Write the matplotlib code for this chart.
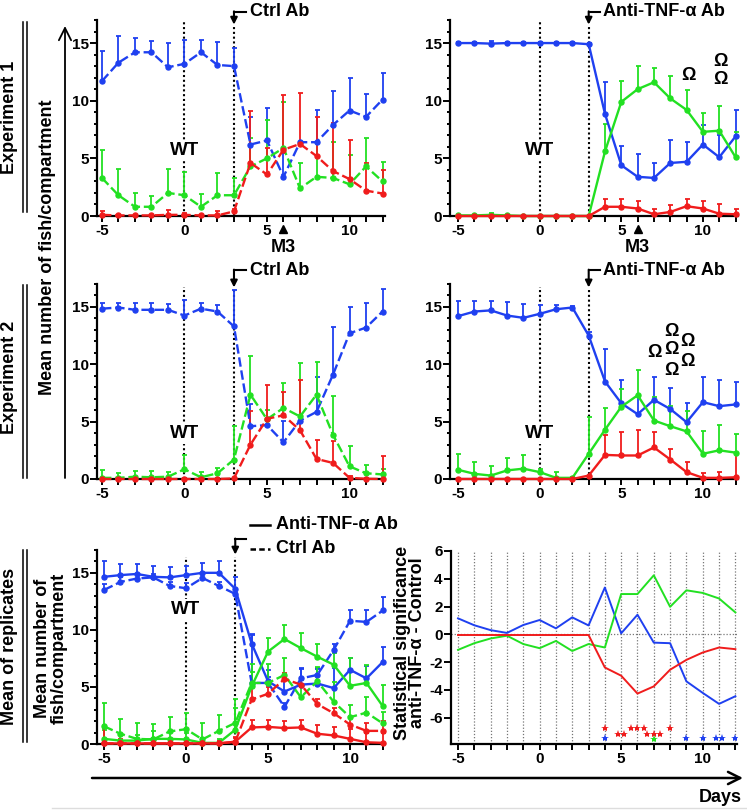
import numpy as np
import matplotlib
matplotlib.use("Agg")
import matplotlib.pyplot as plt
from matplotlib.ticker import MultipleLocator

plt.rcParams['font.family'] = ['Liberation Sans', 'DejaVu Sans']
plt.rcParams['font.weight'] = 'bold'
plt.rcParams['axes.unicode_minus'] = False

# ----------------------------------------------------------------------
# data
# ----------------------------------------------------------------------
days = [-5, -4, -3, -2, -1, 0, 1, 2, 3, 4, 5, 6, 7, 8, 9, 10, 11, 12]

# Experiment 1, control antibody (dashed)
e1c_blue    = [11.7, 13.3, 14.2, 14.2, 12.9, 13.2, 14.2, 13.1, 13.0, 6.2, 6.55, 3.4, 6.4, 6.4, 7.9, 9.15, 8.6, 10.1]
e1c_blue_up = [14.3, 15.6, 15.4, 15.2, 15.0, 15.3, 15.3, 15.1, 14.6, 8.55, 9.4, 5.45, 6.4, 9.2, 10.8, 12.0, 10.6, 12.4]
e1c_green    = [3.3, 1.8, 0.8, 0.8, 2.0, 1.8, 0.8, 1.8, 1.8, 4.3, 5.0, 5.9, 2.4, 3.4, 3.3, 2.75, 4.3, 3.0]
e1c_green_up = [5.7, 4.05, 2.0, 1.7, 4.05, 3.85, 1.9, 3.7, 3.3, 6.8, 8.3, 9.9, 4.6, 6.4, 6.4, 5.3, 6.75, 4.7]
e1c_red    = [0.1, 0.05, 0.05, 0.05, 0.1, 0.1, 0.05, 0.05, 0.4, 4.6, 3.6, 5.75, 6.25, 5.2, 3.9, 3.2, 2.2, 1.95]
e1c_red_up = [0.4, 0.1, 0.1, 0.1, 0.5, 0.3, 0.1, 0.4, 0.6, 9.1, 5.9, 10.5, 10.65, 8.6, 8.05, 6.6, 4.6, 4.0]

# Experiment 1, anti-TNF-a (solid)
e1t_blue    = [15.0, 15.0, 14.95, 15.0, 15.0, 15.0, 15.0, 15.0, 14.9, 8.85, 4.4, 3.4, 3.3, 4.6, 4.7, 6.2, 5.1, 6.9]
e1t_blue_up = [15.1, 15.1, 15.2, 15.1, 15.1, 15.1, 15.1, 15.1, 15.0, 11.6, 6.1, 5.4, 4.6, 6.55, 6.4, 7.9, 7.0, 9.2]
e1t_green    = [0.05, 0.05, 0.1, 0.05, 0.0, 0.0, 0.0, 0.0, 0.0, 5.6, 9.9, 11.0, 11.6, 10.2, 9.2, 7.3, 7.4, 5.1]
e1t_green_up = [0.1, 0.1, 0.3, 0.1, 0.0, 0.0, 0.0, 0.0, 0.0, 8.0, 11.7, 13.0, 12.8, 12.1, 10.9, 8.9, 9.55, 7.3]
e1t_red    = [0, 0, 0, 0, 0, 0, 0, 0, 0, 0.8, 0.8, 0.65, 0.15, 0.35, 0.85, 0.65, 0.2, 0.15]
e1t_red_up = [0, 0, 0, 0, 0, 0, 0, 0, 0, 1.45, 1.5, 1.3, 0.65, 0.95, 1.5, 1.3, 1.05, 0.6]

# Experiment 2, control antibody (dashed)
e2c_blue    = [14.85, 14.95, 14.75, 14.75, 14.75, 14.25, 14.85, 14.6, 13.3, 4.6, 4.7, 3.2, 5.1, 5.85, 9.1, 12.7, 13.2, 14.6]
e2c_blue_up = [15.35, 15.35, 15.35, 15.35, 15.3, 15.6, 15.35, 15.2, 16.5, 6.5, 5.2, 5.1, 5.5, 8.9, 13.25, 15.0, 15.35, 16.6]
e2c_green    = [0.1, 0.1, 0.2, 0.15, 0.2, 0.85, 0.15, 0.5, 1.7, 7.35, 5.2, 6.2, 5.45, 7.35, 3.85, 1.1, 0.5, 0.4]
e2c_green_up = [0.75, 0.5, 0.7, 0.7, 0.6, 2.1, 0.6, 1.0, 4.6, 10.7, 6.0, 8.4, 10.1, 10.2, 7.2, 2.9, 1.25, 0.9]
e2c_red    = [0, 0, 0, 0, 0, 0, 0, 0, 0.05, 3.0, 5.25, 5.55, 4.25, 1.75, 1.4, 0.1, 0.02, 0.0]
e2c_red_up = [0.1, 0.1, 0.1, 0.1, 0.1, 0.1, 0.1, 0.1, 0.1, 5.9, 8.2, 7.6, 8.65, 3.4, 3.3, 0.3, 0.1, 2.0]

# Experiment 2, anti-TNF-a (solid)
e2t_blue    = [14.2, 14.6, 14.7, 14.25, 14.05, 14.4, 14.8, 14.95, 12.5, 8.5, 6.6, 5.65, 6.9, 6.1, 4.95, 6.7, 6.35, 6.5]
e2t_blue_up = [15.55, 15.55, 15.5, 15.4, 15.3, 15.2, 15.2, 15.1, 12.8, 11.3, 8.6, 7.3, 8.9, 7.95, 6.6, 8.85, 8.6, 8.5]
e2t_green    = [0.8, 0.45, 0.3, 0.75, 0.9, 0.6, 0.1, 0.1, 2.2, 4.3, 6.3, 7.3, 5.1, 4.6, 4.15, 2.2, 2.5, 2.3]
e2t_green_up = [2.2, 1.5, 1.15, 1.8, 2.05, 0.9, 0.6, 0.2, 5.4, 6.2, 7.85, 9.5, 7.15, 6.4, 5.95, 4.15, 4.75, 3.95]
e2t_red    = [0, 0, 0, 0, 0, 0, 0, 0, 0.3, 2.1, 2.05, 2.05, 2.75, 1.7, 0.6, 0.1, 0.1, 0.15]
e2t_red_up = [0, 0, 0, 0, 0, 0, 0, 0, 0.3, 3.85, 4.1, 4.3, 4.1, 2.65, 1.5, 0.5, 0.6, 2.3]

# Mean of replicates
mt_blue    = [14.65, 14.8, 14.9, 14.65, 14.6, 14.8, 15.0, 15.0, 13.6, 8.8, 5.5, 4.6, 5.2, 5.3, 4.9, 6.5, 5.75, 7.2]
mt_blue_up = [16.0, 15.8, 15.75, 15.6, 15.5, 15.6, 15.9, 16.0, 14.65, 9.55, 6.5, 5.7, 6.65, 6.6, 6.65, 7.5, 6.8, 8.5]
mc_blue    = [13.5, 14.2, 14.5, 14.6, 13.85, 13.65, 14.55, 13.85, 13.15, 5.35, 5.35, 3.25, 5.75, 6.05, 8.25, 10.8, 10.7, 11.7]
mc_blue_up = [14.0, 14.6, 14.9, 14.9, 14.2, 14.1, 14.9, 14.2, 13.6, 9.65, 5.9, 3.6, 6.6, 6.7, 8.8, 11.75, 11.75, 12.9]
mt_green    = [0.45, 0.3, 0.3, 0.45, 0.45, 0.4, 0.1, 0.1, 1.25, 5.05, 8.1, 9.2, 8.4, 7.65, 6.95, 5.1, 5.35, 3.3]
mt_green_up = [1.2, 0.9, 0.8, 1.1, 1.1, 1.0, 0.5, 0.4, 3.15, 6.35, 9.25, 10.4, 9.75, 8.8, 7.95, 7.5, 6.95, 5.15]
mc_green    = [1.55, 0.9, 0.45, 0.4, 1.1, 1.3, 0.4, 1.15, 1.85, 5.35, 5.35, 6.05, 4.1, 5.5, 3.7, 2.35, 2.75, 1.8]
mc_green_up = [3.6, 2.2, 1.85, 1.75, 2.4, 2.7, 1.85, 2.5, 3.9, 7.0, 7.0, 7.5, 5.6, 6.75, 5.4, 3.45, 4.1, 2.8]
mt_red    = [0.05, 0.05, 0.05, 0.05, 0.05, 0.05, 0.05, 0.05, 0.2, 1.45, 1.5, 1.4, 1.45, 0.9, 0.75, 0.45, 0.15, 0.1]
mt_red_up = [1.4, 0.4, 0.3, 0.3, 0.4, 0.3, 0.3, 0.3, 0.6, 2.1, 2.1, 2.0, 2.1, 1.7, 1.5, 1.3, 1.0, 1.0]
mc_red    = [0.05, 0.05, 0.05, 0.05, 0.05, 0.05, 0.05, 0.05, 0.2, 3.9, 4.4, 5.7, 5.2, 3.5, 2.7, 1.7, 1.15, 1.15]
mc_red_up = [0.3, 0.3, 0.3, 0.3, 0.3, 0.3, 0.3, 0.3, 0.5, 5.05, 5.0, 6.2, 5.7, 3.95, 3.15, 2.3, 1.85, 2.0]

# Statistical significance anti-TNF-a vs control
sig_blue  = [1.15, 0.65, 0.3, 0.1, 0.67, 1.03, 0.43, 1.22, 0.64, 3.37, 0.07, 1.41, -0.6, -0.64, -3.39, -4.22, -5.01, -4.46]
sig_green = [-1.12, -0.64, -0.3, -0.1, -0.7, -1.0, -0.48, -1.2, -0.7, -0.95, 2.9, 2.9, 4.25, 1.98, 3.17, 2.98, 2.58, 1.58]
sig_red   = [-0.05, -0.05, -0.05, -0.05, -0.05, -0.05, -0.05, -0.05, -0.05, -2.39, -2.98, -4.27, -3.75, -2.55, -1.84, -1.31, -0.95, -1.07]

red_star_x = [4, 4.8, 5.2, 5.6, 6.0, 6.4, 6.6, 7.0, 7.4, 8]
red_star_y = [-6.75, -7.15, -7.15, -6.75, -6.75, -6.75, -7.15, -7.15, -7.15, -6.75]
blue_star_x = [4, 9, 10, 10.8, 11.2, 12]
green_star_x = [7]

BLUE, GREEN, RED = '#1f40f0', '#22e022', '#f01c1c'

# ----------------------------------------------------------------------
# layout helpers (pixel based)
# ----------------------------------------------------------------------
W, H = 747, 810
fig = plt.figure(figsize=(W / 100, H / 100), dpi=100)

ov = fig.add_axes([0, 0, 1, 1])
ov.set_xlim(0, W)
ov.set_ylim(H, 0)
ov.axis('off')


def px_axes(l, t, r, b):
    return fig.add_axes([l / W, 1 - b / H, (r - l) / W, (b - t) / H])


def style(ax, xlim, ylim, ymaj=5, ymin=1):
    ax.set_xlim(*xlim)
    ax.set_ylim(*ylim)
    for s in ['top', 'right']:
        ax.spines[s].set_visible(False)
    for s in ['left', 'bottom']:
        ax.spines[s].set_linewidth(1.6)
    ax.xaxis.set_major_locator(MultipleLocator(5))
    ax.xaxis.set_minor_locator(MultipleLocator(1))
    ax.yaxis.set_major_locator(MultipleLocator(ymaj))
    if ymin:
        ax.yaxis.set_minor_locator(MultipleLocator(ymin))
    ax.tick_params(which='both', direction='out', width=1.4, labelsize=11, pad=1)
    ax.tick_params(axis='x', which='both', length=4.5)
    ax.tick_params(axis='y', which='major', length=5)
    ax.tick_params(axis='y', which='minor', length=2.5)
    ax.patch.set_alpha(0)


def series(ax, mean, up, color, dashed):
    mean = np.array(mean, dtype=float)
    err = np.array(up, dtype=float) - mean
    cont = ax.errorbar(days, mean, yerr=[np.zeros_like(err), np.clip(err, 0, None)],
                       color=color, lw=1.7, marker='o', ms=3.6, elinewidth=1.3,
                       capsize=1.8, capthick=1.3, zorder=3)
    if dashed:
        cont[0].set_linestyle((0, (4, 1.6)))
    for a in cont.get_children():
        a.set_clip_on(False)


def vlines(ax, top0, top3):
    ax.plot([0, 0], [0, top0], ls=(0, (1, 1.3)), color='k', lw=1.5, zorder=2.5, clip_on=False)
    ax.plot([3, 3], [0, top3], ls=(0, (1, 1.3)), color='k', lw=1.5, zorder=2.5, clip_on=False)


def bent_arrow(ax, y_bend, y_tip, x_end, label):
    ax.plot([3, x_end], [y_bend, y_bend], color='k', lw=1.5, clip_on=False)
    ax.annotate('', xy=(3, y_tip), xytext=(3, y_bend + 0.05),
                arrowprops=dict(arrowstyle='-|>', color='k', lw=1.5, mutation_scale=10,
                                shrinkA=0, shrinkB=0), annotation_clip=False)
    if label:
        ax.text(x_end + 0.2, y_bend, label, ha='left', va='center', fontsize=13,
                fontweight='bold', clip_on=False)


def wt(ax, y):
    ax.text(0, y, 'WT', ha='center', va='center', fontsize=13.5, fontweight='bold', zorder=4,
            bbox=dict(facecolor='white', edgecolor='none', pad=1.5))


def m3(ax):
    ax.plot([6], [-1.1], marker='^', ms=6, color='k', clip_on=False)
    ax.text(6, -2.75, 'M3', ha='center', va='center', fontsize=13, fontweight='bold')


def omega(ax, x, y):
    ax.text(x, y, '\u03a9', ha='center', va='center', fontsize=13, fontweight='bold')


# ----------------------------------------------------------------------
# Experiment 1
# ----------------------------------------------------------------------
ax1 = px_axes(97, 20, 385, 216)
style(ax1, (-5.3, 12.15), (0, 17))
series(ax1, e1c_blue, e1c_blue_up, BLUE, True)
series(ax1, e1c_green, e1c_green_up, GREEN, True)
series(ax1, e1c_red, e1c_red_up, RED, True)
vlines(ax1, 16.8, 16.6)
wt(ax1, 5.7)
bent_arrow(ax1, 17.7, 16.6, 3.75, 'Ctrl Ab')
m3(ax1)

ax2 = px_axes(450, 20, 738, 216)
style(ax2, (-5.5, 12.15), (0, 17))
series(ax2, e1t_blue, e1t_blue_up, BLUE, False)
series(ax2, e1t_green, e1t_green_up, GREEN, False)
series(ax2, e1t_red, e1t_red_up, RED, False)
vlines(ax2, 16.8, 16.6)
wt(ax2, 5.7)
bent_arrow(ax2, 17.7, 16.6, 3.7, 'Anti-TNF-\u03b1 Ab')
m3(ax2)
omega(ax2, 9.1, 12.2)
omega(ax2, 11.1, 13.4)
omega(ax2, 11.1, 11.8)

# ----------------------------------------------------------------------
# Experiment 2
# ----------------------------------------------------------------------
ax3 = px_axes(97, 284, 385, 479)
style(ax3, (-5.3, 12.15), (0, 17))
series(ax3, e2c_blue, e2c_blue_up, BLUE, True)
series(ax3, e2c_green, e2c_green_up, GREEN, True)
series(ax3, e2c_red, e2c_red_up, RED, True)
vlines(ax3, 16.7, 16.6)
wt(ax3, 4.0)
bent_arrow(ax3, 18.2, 16.7, 3.75, 'Ctrl Ab')

ax4 = px_axes(450, 284, 738, 479)
style(ax4, (-5.5, 12.15), (0, 17))
series(ax4, e2t_blue, e2t_blue_up, BLUE, False)
series(ax4, e2t_green, e2t_green_up, GREEN, False)
series(ax4, e2t_red, e2t_red_up, RED, False)
vlines(ax4, 16.7, 16.6)
wt(ax4, 4.0)
bent_arrow(ax4, 18.2, 16.7, 3.7, 'Anti-TNF-\u03b1 Ab')
for ox, oy in [(8.06, 12.9), (8.06, 11.3), (8.06, 9.5), (7.04, 11.0), (9.08, 12.0), (9.08, 10.26)]:
    omega(ax4, ox, oy)

# ----------------------------------------------------------------------
# Mean of replicates
# ----------------------------------------------------------------------
ax5 = px_axes(97, 550, 385, 744)
style(ax5, (-5.43, 12.13), (0, 17))
series(ax5, mc_blue, mc_blue_up, BLUE, True)
series(ax5, mt_blue, mt_blue_up, BLUE, False)
series(ax5, mc_green, mc_green_up, GREEN, True)
series(ax5, mt_green, mt_green_up, GREEN, False)
series(ax5, mc_red, mc_red_up, RED, True)
series(ax5, mt_red, mt_red_up, RED, False)
vlines(ax5, 16.4, 16.4)
wt(ax5, 11.75)
bent_arrow(ax5, 17.95, 16.6, 3.65, None)
ax5.plot([3.9, 5.1], [19.2, 19.2], color='k', lw=1.8, clip_on=False)
ax5.plot([3.9, 5.1], [17.1, 17.1], color='k', lw=1.8, ls=(0, (2.2, 1.3)), clip_on=False)
ax5.text(5.5, 19.2, 'Anti-TNF-\u03b1 Ab', ha='left', va='center', fontsize=13, fontweight='bold')
ax5.text(5.5, 17.1, 'Ctrl Ab', ha='left', va='center', fontsize=13, fontweight='bold')

# ----------------------------------------------------------------------
# Statistical significance
# ----------------------------------------------------------------------
ax6 = px_axes(451, 551, 737, 744)
style(ax6, (-5.43, 12.1), (-7.9, 6), ymaj=2, ymin=0)
for d in days:
    ax6.plot([d, d], [-7.9, 6], ls=(0, (1, 1.5)), color='#777777', lw=0.9, zorder=1)
ax6.plot([-5.43, 12.1], [0, 0], ls=(0, (1, 1.5)), color='#777777', lw=0.9, zorder=1)
ax6.plot(days, sig_blue, color=BLUE, lw=1.4, zorder=3)
ax6.plot(days, sig_green, color=GREEN, lw=1.4, zorder=3)
ax6.plot(days, sig_red, color=RED, lw=1.4, zorder=3)
ax6.plot(red_star_x, red_star_y, ls='none', marker='*', ms=6, color=RED, mew=0)
ax6.plot(blue_star_x, [-7.45] * len(blue_star_x), ls='none', marker='*', ms=6, color=BLUE, mew=0)
ax6.plot(green_star_x, [-7.57] * len(green_star_x), ls='none', marker='*', ms=6, color=GREEN, mew=0)

# ----------------------------------------------------------------------
# figure-level labels, lines and arrows (pixel coords)
# ----------------------------------------------------------------------
lab = dict(fontsize=13, fontweight='bold', rotation=90, ha='center', va='center')
ov.text(10, 117, 'Experiment 1', **lab)
ov.text(10, 377, 'Experiment 2', **lab)
ov.text(10, 646, 'Mean of replicates', **lab)
ov.text(48, 247, 'Mean number of fish/compartment', **lab)
ov.text(51, 648, 'Mean number of\nfish/compartment', linespacing=0.95, **lab)
ov.text(410, 643, 'Statistical significance\nanti-TNF-\u03b1 - Control', linespacing=0.92, **lab)

for y0, y1 in [(22, 212), (285, 478), (550, 742)]:
    ov.plot([23, 23], [y0, y1], color='k', lw=1.1)
    ov.plot([26.5, 26.5], [y0, y1], color='k', lw=1.1)

ov.annotate('', xy=(65, 26), xytext=(65, 478),
            arrowprops=dict(arrowstyle='->', color='k', lw=1.3, mutation_scale=22, shrinkA=0, shrinkB=0))
ov.annotate('', xy=(743, 778), xytext=(92, 778),
            arrowprops=dict(arrowstyle='->', color='k', lw=1.8, mutation_scale=22, shrinkA=0, shrinkB=0))
ov.text(742, 797, 'Days', ha='right', va='center', fontsize=13, fontweight='bold')
ov.plot([52, 747], [808, 808], color='#dddddd', lw=1.0)

fig.savefig('out.png', dpi=100)
